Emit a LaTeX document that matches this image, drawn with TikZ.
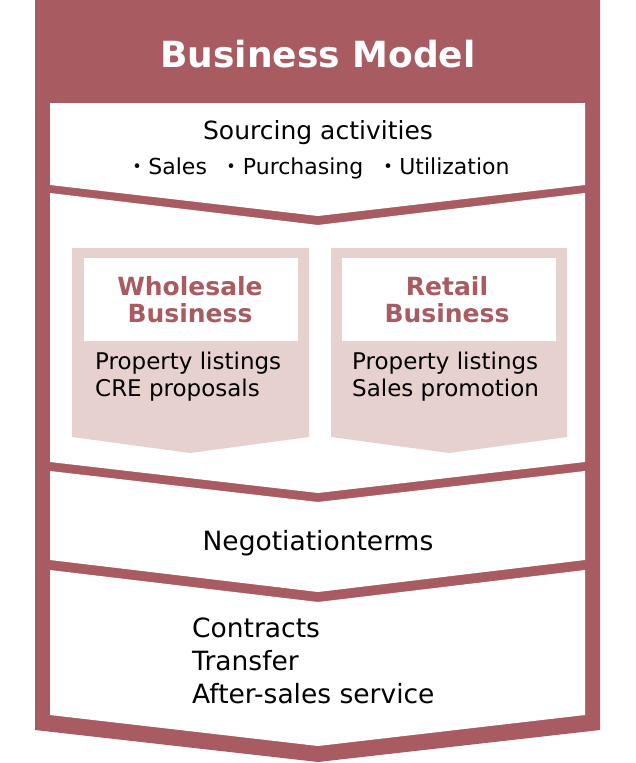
\documentclass[tikz,border=0pt]{standalone}
\usepackage{fontspec}
\setmainfont{DejaVu Sans}
\newfontfamily\cjk{Noto Sans CJK JP}
\definecolor{maroon}{HTML}{A85B61}
\definecolor{pinkbg}{HTML}{E6D1CE}
\begin{document}
\begin{tikzpicture}[x=1pt,y=-1pt,
  txt/.style={font=\fontsize{26.5}{30}\selectfont, text=black, inner sep=0pt},
  ttl/.style={font=\bfseries\fontsize{25}{28}\selectfont, text=maroon, align=center, inner sep=0pt}]
\useasboundingbox (0,0) rectangle (635,763);
\fill[white] (0,0) rectangle (635,763);
% outer
\fill[maroon] (35,0) -- (600,0) -- (600,730) -- (318,762) -- (35,730) -- cycle;
\node[font=\bfseries\fontsize{36}{40}\selectfont, text=white] (title) at (318,54) {Business Model};
% bands
\fill[white] (50,103) -- (585,103) -- (585,185) -- (318,216) -- (50,185) -- cycle;
\fill[white] (50,193) -- (318,225) -- (585,193) -- (585,462) -- (318,493) -- (50,462) -- cycle;
\fill[white] (50,471) -- (318,502) -- (585,471) -- (585,560) -- (318,592) -- (50,560) -- cycle;
\fill[white] (50,570) -- (318,602) -- (585,570) -- (585,715) -- (318,746) -- (50,715) -- cycle;
% pink boxes
\fill[pinkbg] (72,248) -- (309,248) -- (309,437) -- (190,453) -- (72,437) -- cycle;
\fill[pinkbg] (331,248) -- (567,248) -- (567,437) -- (449,453) -- (331,437) -- cycle;
\fill[white] (84,258) rectangle (298,341);
\fill[white] (342,258) rectangle (556,341);
% texts
\node[txt, font=\fontsize{25}{30}\selectfont] (src) at (318,133) {Sourcing activities};
\node[txt, font=\fontsize{22}{26}\selectfont] (items) at (318,168) {{\cjk ・}Sales\ \ {\cjk ・}Purchasing\ \ {\cjk ・}Utilization};
\node[ttl] (whb) at (190,300) {Wholesale\\[-1pt]Business};
\node[ttl] (rtb) at (447,300) {Retail\\[-1pt]Business};
\node[txt, align=left, anchor=north west, font=\fontsize{23}{27}\selectfont] (wl) at (95,352) {Property listings\\CRE proposals};
\node[txt, align=left, anchor=north west, font=\fontsize{23}{27}\selectfont] (rl) at (352,352) {Property listings\\Sales promotion};
\node[txt] (neg) at (318,543) {Negotiationterms};
\node[txt, align=left, anchor=north west, font=\fontsize{26.5}{33}\selectfont] (ct) at (192,618) {Contracts\\Transfer\\After-sales service};
\end{tikzpicture}
\end{document}
